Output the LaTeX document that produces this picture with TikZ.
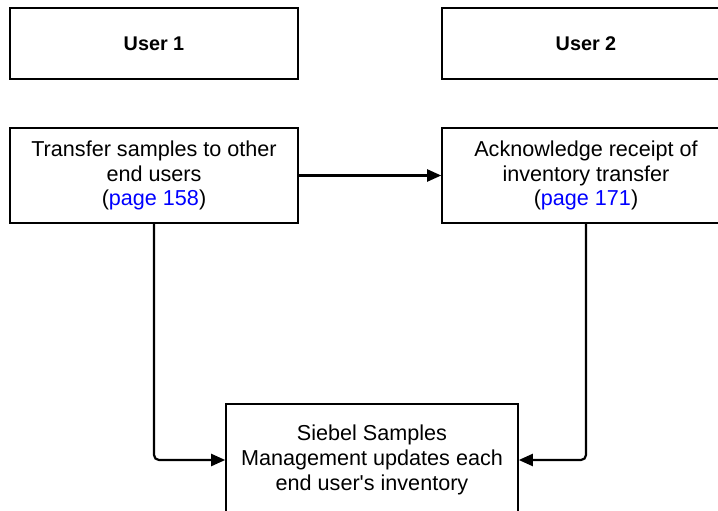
\documentclass[tikz,border=0pt]{standalone}
\usepackage{fontspec}
\setmainfont{Liberation Sans}
\newfontfamily\nomapfont{Liberation Sans}
\usetikzlibrary{arrows.meta}
\definecolor{linkblue}{RGB}{0,0,255}
\begin{document}
\begin{tikzpicture}[x=1pt,y=-1pt,
  box/.style={draw, line width=1.6pt, minimum width=288pt, minimum height=71pt, inner sep=0pt, align=center},
  txt/.style={font=\fontsize{21.6}{24.8}\selectfont},
  hdr/.style={font=\fontsize{19.8}{22}\selectfont\bfseries},
  conn/.style={draw, line width=2.2pt, -{Triangle[length=14pt,width=12pt]}, rounded corners=5pt}]
\useasboundingbox (0,0) rectangle (718,511);
\begin{scope}
\clip (0,0) rectangle (718,511);
\node[box,hdr] (u1) at (154,43.5) {User 1};
\node[box,hdr] (u2) at (586,43.5) {User 2};
\node[box,txt,minimum height=95pt] (t1) at (154,175.5) {Transfer samples to other\\end users\\(\textcolor{linkblue}{page 158})};
\node[box,txt,minimum height=95pt] (t2) at (586,175.5) {Acknowledge receipt of\\inventory transfer\\(\textcolor{linkblue}{page 171})};
\node[box,txt,minimum width=292pt,minimum height=112pt] (s) at (372,460) {Siebel Samples\\Management updates each\\end user{\nomapfont'}s inventory};
\path[conn] (t1.east) -- (t2.west);
\path[conn] (t1.south) |- (s.west);
\path[conn] (t2.south) |- (s.east);
\end{scope}
\end{tikzpicture}
\end{document}
